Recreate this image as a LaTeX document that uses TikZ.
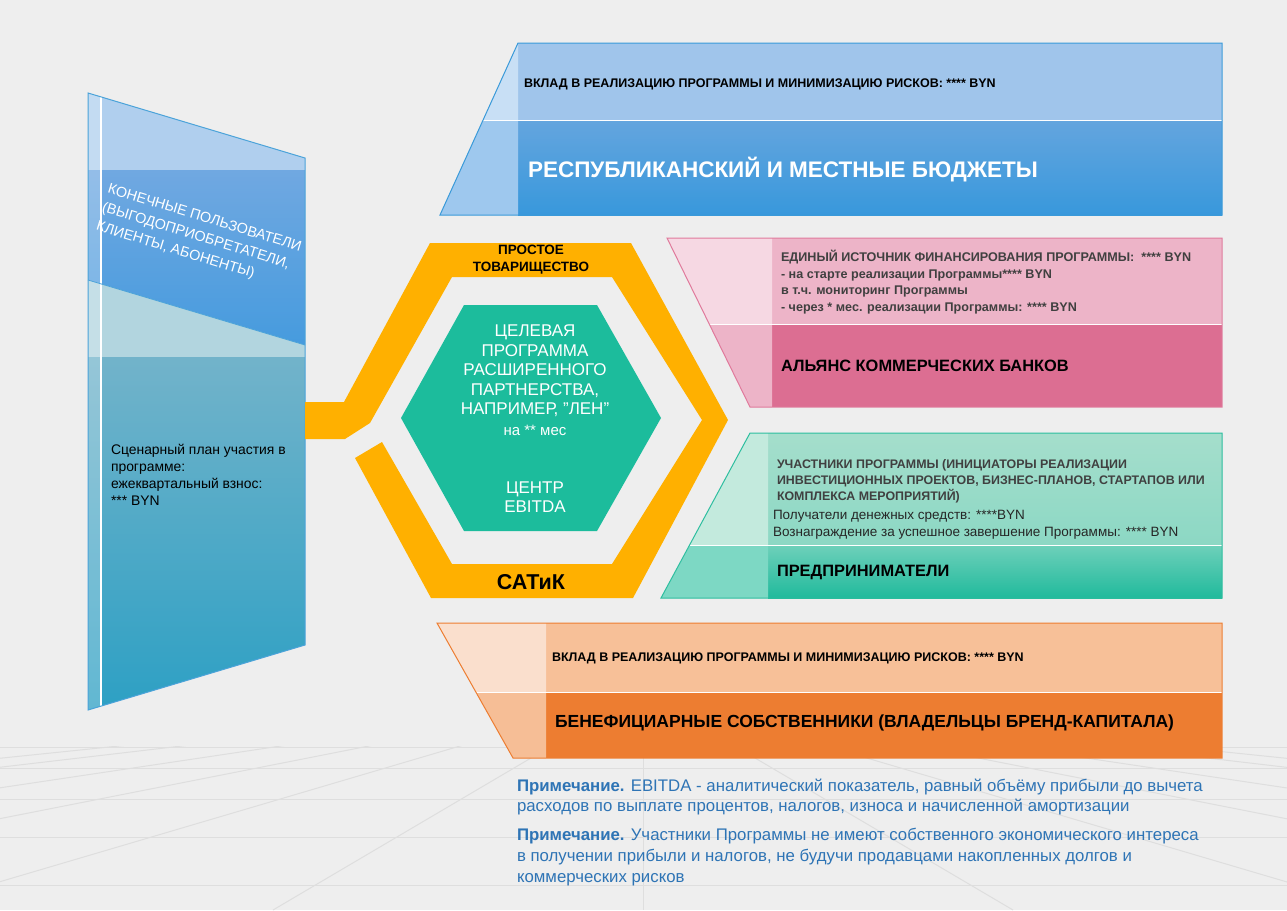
\documentclass[tikz,border=0pt]{standalone}
\usepackage{fontspec}
\setmainfont{Liberation Sans}
\definecolor{bg}{RGB}{238,238,238}
\definecolor{floorc}{RGB}{222,222,222}
\definecolor{ringc}{RGB}{255,176,0}
\definecolor{hexc}{RGB}{28,188,156}
\definecolor{noteblue}{RGB}{46,116,181}
\definecolor{dgray}{RGB}{64,64,64}
% blue
\definecolor{bB}{RGB}{58,154,217}
\definecolor{bUp}{RGB}{160,197,235}
\definecolor{bUpL}{RGB}{200,223,245}
\definecolor{bLoT}{RGB}{100,165,222}
\definecolor{bLoB}{RGB}{56,152,220}
\definecolor{bLoL}{RGB}{158,200,238}
% pink
\definecolor{pB}{RGB}{224,122,156}
\definecolor{pUp}{RGB}{237,180,200}
\definecolor{pUpL}{RGB}{246,216,227}
\definecolor{pLo}{RGB}{220,110,146}
\definecolor{pLoL}{RGB}{237,180,200}
% green
\definecolor{gB}{RGB}{45,190,159}
\definecolor{gUpT}{RGB}{165,222,204}
\definecolor{gUpB}{RGB}{140,216,196}
\definecolor{gUpL}{RGB}{195,234,221}
\definecolor{gLoT}{RGB}{110,208,186}
\definecolor{gLoB}{RGB}{32,186,156}
\definecolor{gLoL}{RGB}{125,216,196}
% orange
\definecolor{oB}{RGB}{237,125,49}
\definecolor{oUp}{RGB}{247,192,152}
\definecolor{oUpL}{RGB}{250,223,205}
\definecolor{oLo}{RGB}{237,125,49}
\definecolor{oLoL}{RGB}{246,190,150}
% left panel
\definecolor{lBand1}{RGB}{176,207,238}
\definecolor{lUpT}{RGB}{112,168,225}
\definecolor{lUpB}{RGB}{70,155,222}
\definecolor{lBand2}{RGB}{178,213,223}
\definecolor{lLoT}{RGB}{114,179,202}
\definecolor{lLoB}{RGB}{45,160,196}
\definecolor{lB}{RGB}{75,163,217}
\begin{document}
\begin{tikzpicture}[x=1pt,y=-1pt,
  floorline/.style={draw=floorc,line width=1pt},
  divline/.style={draw=white,line width=1pt},
  lbl/.style={inner sep=0pt,outer sep=0pt},
  small/.style={font=\bfseries\fontsize{12.5}{16}\selectfont},
  big/.style={font=\bfseries\fontsize{16.4}{18}\selectfont},
  hextext/.style={white,align=center,font=\fontsize{17}{19.5}\selectfont}]
\useasboundingbox (0,0) rectangle (1287,910);
\fill[bg] (0,0) rectangle (1287,910);
% ---------- floor ----------
\begin{scope}
  \clip (0,746) rectangle (1287,910);
  \foreach \d in {0,370,739,1107,1463,1863,2116}{
    \draw[floorline] (643,692) -- (643+\d,910);
    \draw[floorline] (643,692) -- (643-\d,910);
  }
\end{scope}
\foreach \y in {747,768,799,837,885}{\draw[floorline] (0,\y) -- (1287,\y);}
% ---------- left panel ----------
\fill[lBand1] (88,93) -- (305,158) -- (305,170) -- (88,170) -- cycle;
\shade[top color=lUpT,bottom color=lUpB] (88,170) -- (305,170) -- (305,345) -- (88,280) -- cycle;
\fill[lBand2] (88,280) -- (305,345) -- (305,357) -- (88,357) -- cycle;
\shade[top color=lLoT,bottom color=lLoB] (88,357) -- (305,357) -- (305,645) -- (88,710) -- cycle;
\fill[white,opacity=0.25] (88,93) -- (101,97) -- (101,706) -- (88,710) -- cycle;
\draw[white,line width=1.2pt] (101,97) -- (101,706);
\draw[lB,line width=0.8pt] (88,280) -- (305,345);
\draw[lB,line width=1pt] (88,93) -- (305,158) -- (305,645) -- (88,710) -- cycle;
\node[lbl,rotate=-17,anchor=north west,align=left,white,font=\fontsize{14.4}{19.5}\selectfont] (users) at (110,183)
  {КОНЕЧНЫЕ ПОЛЬЗОВАТЕЛИ\\(ВЫГОДОПРИОБРЕТАТЕЛИ,\\КЛИЕНТЫ, АБОНЕНТЫ)};
\node[lbl,anchor=north west,align=left,font=\fontsize{13.9}{17}\selectfont] (plan) at (111,444)
  {Сценарный план участия в\\программе:\\ежеквартальный взнос:\\*** BYN};
% ---------- ring ----------
\fill[ringc] (305,402) -- (344,402) -- (430,243) -- (631,243) -- (728,420) -- (633,598)
  -- (431,598) -- (355,458) -- (382,442) -- (452,564) -- (612,564) -- (702,420)
  -- (612,277) -- (452,277) -- (370,423) -- (345,439) -- (305,439) -- cycle;
\node[lbl,align=center,font=\bfseries\fontsize{13.5}{17}\selectfont] (pt) at (531,260) {ПРОСТОЕ\\ТОВАРИЩЕСТВО};
\node[lbl,font=\bfseries\fontsize{21.5}{22}\selectfont] (satik) at (531,582) {САТиК};
% ---------- hexagon ----------
\fill[hexc] (464,305) -- (597,305) -- (661,418) -- (597,531) -- (464,531) -- (401,418) -- cycle;
\node[lbl,hextext] (goal) at (535,380)
  {ЦЕЛЕВАЯ\\ПРОГРАММА\\РАСШИРЕННОГО\\ПАРТНЕРСТВА,\\НАПРИМЕР, "ЛЕН"\\[1pt]{\fontsize{15}{19.5}\selectfont на ** мес}};
\node[lbl,hextext] (ebitda) at (535,497) {ЦЕНТР\\EBITDA};
% ---------- blue panel ----------
\fill[bUp] (518,43) rectangle (1222,120);
\shade[top color=bLoT,bottom color=bLoB] (518,120) rectangle (1222,215);
\fill[bUpL] (518,43) -- (518,120) -- (483,120) -- cycle;
\fill[bLoL] (483,120) -- (518,120) -- (518,215) -- (440,215) -- cycle;
\draw[divline] (483,120) -- (1222,120);
\draw[bB,line width=1pt] (518,43) -- (1222,43) -- (1222,215) -- (440,215) -- cycle;
\node[lbl,anchor=west,small] (vklad1) at (524,84) {ВКЛАД В РЕАЛИЗАЦИЮ ПРОГРАММЫ И МИНИМИЗАЦИЮ РИСКОВ: **** BYN};
\node[lbl,anchor=west,white,font=\bfseries\fontsize{22.5}{24}\selectfont] (budget) at (528,170) {РЕСПУБЛИКАНСКИЙ И МЕСТНЫЕ БЮДЖЕТЫ};
% ---------- pink panel ----------
\fill[pUp] (772,238) rectangle (1222,324);
\fill[pLo] (772,324) rectangle (1222,407);
\fill[pUpL] (667,238) -- (772,238) -- (772,324) -- (709,324) -- cycle;
\fill[pLoL] (709,324) -- (772,324) -- (772,407) -- (750,407) -- cycle;
\draw[divline] (709,324) -- (1222,324);
\draw[pB,line width=1pt] (667,238) -- (1222,238) -- (1222,407) -- (750,407) -- cycle;
\node[lbl,anchor=north west,align=left,text=dgray,font=\bfseries\fontsize{12.6}{16.7}\selectfont] (bank1) at (781,250)
  {ЕДИНЫЙ ИСТОЧНИК ФИНАНСИРОВАНИЯ ПРОГРАММЫ:\ \ **** BYN\\- на старте реализации Программы**** BYN\\в т.ч. мониторинг Программы\\- через * мес. реализации Программы: **** BYN};
\node[lbl,anchor=west,big] (bank2) at (781,366) {АЛЬЯНС КОММЕРЧЕСКИХ БАНКОВ};
% ---------- green panel ----------
\shade[top color=gUpT,bottom color=gUpB] (768,433) rectangle (1222,545);
\shade[top color=gLoT,bottom color=gLoB] (768,545) rectangle (1222,598);
\fill[gUpL] (750,433) -- (768,433) -- (768,545) -- (690,545) -- cycle;
\fill[gLoL] (690,545) -- (768,545) -- (768,598) -- (661,598) -- cycle;
\draw[divline] (690,545) -- (1222,545);
\draw[gB,line width=1pt] (750,433) -- (1222,433) -- (1222,598) -- (661,598) -- cycle;
\node[lbl,anchor=north west,align=left,text=dgray,font=\bfseries\fontsize{12.4}{16}\selectfont] (part1) at (777,460)
  {УЧАСТНИКИ ПРОГРАММЫ (ИНИЦИАТОРЫ РЕАЛИЗАЦИИ\\ИНВЕСТИЦИОННЫХ ПРОЕКТОВ, БИЗНЕС-ПЛАНОВ, СТАРТАПОВ ИЛИ\\КОМПЛЕКСА МЕРОПРИЯТИЙ)};
\node[lbl,anchor=north west,align=left,text=black!85,font=\fontsize{13.5}{17}\selectfont] (part2) at (773,510)
  {Получатели денежных средств: ****BYN\\Вознаграждение за успешное завершение Программы: **** BYN};
\node[lbl,anchor=west,big] (ent) at (777,572) {ПРЕДПРИНИМАТЕЛИ};
% ---------- orange panel ----------
\fill[oUp] (546,623) rectangle (1222,692);
\fill[oLo] (546,692) rectangle (1222,758);
\fill[oUpL] (437,623) -- (546,623) -- (546,692) -- (476,692) -- cycle;
\fill[oLoL] (476,692) -- (546,692) -- (546,758) -- (513,758) -- cycle;
\draw[divline] (476,692) -- (1222,692);
\draw[oB,line width=1pt] (437,623) -- (1222,623) -- (1222,758) -- (513,758) -- cycle;
\node[lbl,anchor=west,small] (vklad2) at (552,658) {ВКЛАД В РЕАЛИЗАЦИЮ ПРОГРАММЫ И МИНИМИЗАЦИЮ РИСКОВ: **** BYN};
\node[lbl,anchor=west,font=\bfseries\fontsize{17.5}{18}\selectfont] (owners) at (555,723) {БЕНЕФИЦИАРНЫЕ СОБСТВЕННИКИ (ВЛАДЕЛЬЦЫ БРЕНД-КАПИТАЛА)};
% ---------- notes ----------
\node[lbl,anchor=north west,align=left,text=noteblue,font=\fontsize{16.8}{20.5}\selectfont] (note1) at (517,779)
  {\textbf{Примечание.} EBITDA - аналитический показатель, равный объёму прибыли до вычета\\расходов по выплате процентов, налогов, износа и начисленной амортизации};
\node[lbl,anchor=north west,align=left,text=noteblue,font=\fontsize{16.8}{21}\selectfont] (note2) at (517,828)
  {\textbf{Примечание.} Участники Программы не имеют собственного экономического интереса\\в получении прибыли и налогов, не будучи продавцами накопленных долгов и\\коммерческих рисков};
\end{tikzpicture}
\end{document}
